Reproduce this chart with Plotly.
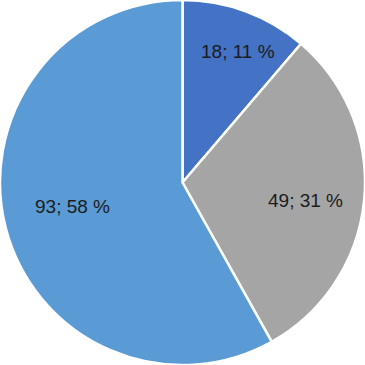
import math
import plotly.graph_objects as go

labels = ["A", "B", "C"]
values = [18, 49, 93]
pct_labels = ["11 %", "31 %", "58 %"]
colors = ["#4472C4", "#A5A5A5", "#5B9BD5"]

texts = [f"{v}; {p}" for v, p in zip(values, pct_labels)]

# label placement style (radial fraction of radius, Excel-like "best fit")
label_r = [0.78, 0.68, 0.615]
label_angle_shift = math.radians(2.5)

W = H = 365

fig = go.Figure(go.Pie(
    labels=labels,
    values=values,
    textinfo="none",
    sort=False,
    direction="clockwise",
    rotation=0,
    marker=dict(colors=colors, line=dict(color="white", width=2.5)),
    showlegend=False,
    hoverinfo="none",
))

total = sum(values)
cum = 0
annotations = []
for v, t, rf in zip(values, texts, label_r):
    mid = (cum + v / 2) / total * 2 * math.pi + label_angle_shift
    cum += v
    x = 0.5 + rf * 0.5 * math.sin(mid)
    y = 0.5 + rf * 0.5 * math.cos(mid)
    annotations.append(dict(
        x=x, y=y, xref="paper", yref="paper", text=t, showarrow=False,
        xanchor="center", yanchor="middle",
        font=dict(family="Liberation Sans, Arial", size=19, color="#1c1c1c"),
    ))

fig.update_layout(
    width=W, height=H,
    margin=dict(l=0, r=0, t=0, b=0),
    paper_bgcolor="white",
    annotations=annotations,
)

fig.write_html("out.html", config={"displayModeBar": False},
               post_script="document.body.style.margin='0';")
